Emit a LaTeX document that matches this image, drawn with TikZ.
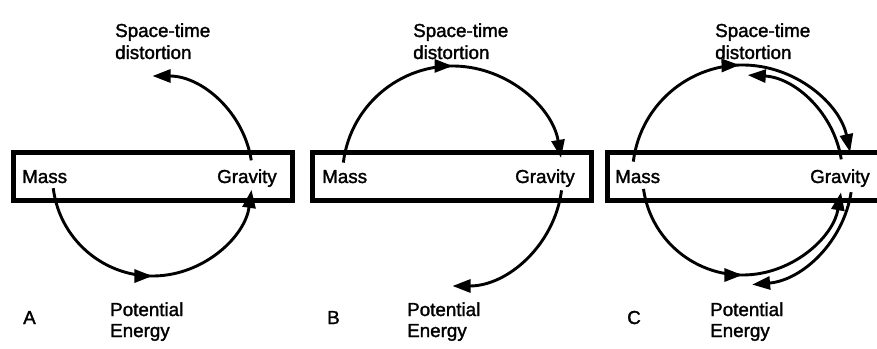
\documentclass[tikz,border=0pt]{standalone}
\usepackage{fontspec}
\setmainfont[AutoFakeBold=1.6]{Liberation Sans}
\usetikzlibrary{arrows.meta,decorations.markings,calc}
\begin{document}
\begin{tikzpicture}[x=1pt,y=1pt,
  box/.style={draw, line width=4.5pt, minimum width=279pt, minimum height=48pt, inner sep=0pt},
  lbl/.style={anchor=base west, inner sep=0pt, font=\fontsize{18.8}{22}\selectfont\bfseries},
  flow/.style={line width=2.9pt, -{Triangle[length=18pt,width=13pt]}},
  midarrow/.style={postaction={decorate}, decoration={markings, mark=at position #1 with {\arrow{Triangle[length=18pt,width=13pt]}}}}
]
\useasboundingbox (0,0) rectangle (877,348);
\clip (0,0) rectangle (877,348);

% boxes
\node[box] (boxA) at (153,171.5) {};
\node[box] (boxB) at (452,171.5) {};
\node[box] (boxC) at (747,171.5) {};

% centres of the circles
\coordinate (cA) at (152.5,172);
\coordinate (cB) at (452.5,172);
\coordinate (cC) at (742.5,173);

% ---------- Panel A ----------
\node[lbl] (stA1) at (115,311) {Space-time};
\node[lbl] (stA2) at (115,289) {distortion};
\node[lbl] (massA) at (22,165) {Mass};
\node[lbl] (gravA) at (217,165) {Gravity};
\node[lbl] (peA1) at (110,32) {Potential};
\node[lbl] (peA2) at (110,11) {Energy};
\node[lbl] (labA) at (23,24) {A};

\draw[flow, midarrow=0.503] ($(cA)+(187:100)$) arc[start angle=187, end angle=352, radius=100];
\draw[flow] ($(cA)+(9:100)$) arc[start angle=9, end angle=90, radius=100];

% ---------- Panel B ----------
\node[lbl] (stB1) at (413,311) {Space-time};
\node[lbl] (stB2) at (413,289) {distortion};
\node[lbl] (massB) at (322,165) {Mass};
\node[lbl] (gravB) at (515,165) {Gravity};
\node[lbl] (peB1) at (407,32) {Potential};
\node[lbl] (peB2) at (407,11) {Energy};
\node[lbl] (labB) at (327,24) {B};

\draw[flow, midarrow=0.508] ($(cB)+(173:110)$) arc[start angle=173, end angle=9.5, radius=110];
\draw[flow] ($(cB)+(-7.5:110)$) arc[start angle=-7.5, end angle=-90, radius=110];

% ---------- Panel C ----------
\node[lbl] (stC1) at (715,311) {Space-time};
\node[lbl] (stC2) at (715,289) {distortion};
\node[lbl] (massC) at (615,165) {Mass};
\node[lbl] (gravC) at (810,165) {Gravity};
\node[lbl] (peC1) at (710,32) {Potential};
\node[lbl] (peC2) at (710,11) {Energy};
\node[lbl] (labC) at (627,24) {C};

\draw[flow, midarrow=0.506] ($(cC)+(173:110)$) arc[start angle=173, end angle=12, radius=110];
\draw[flow] ($(cC)+(9:100)$) arc[start angle=9, end angle=87, radius=100];
\draw[flow, midarrow=0.506] ($(cC)+(188:100)$) arc[start angle=188, end angle=350, radius=100];
\draw[flow] ($(cC)+(-9:110)$) arc[start angle=-9, end angle=-85, radius=110];
\end{tikzpicture}
\end{document}
